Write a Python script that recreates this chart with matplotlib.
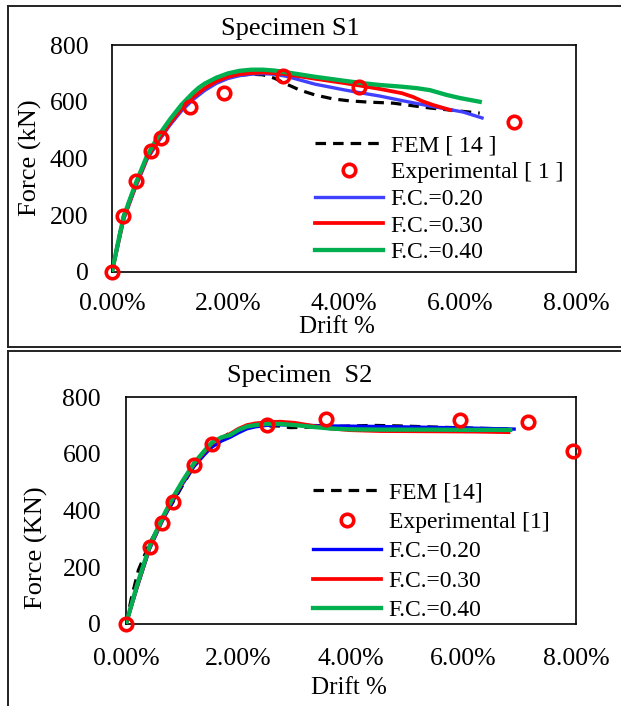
import matplotlib
matplotlib.use("Agg")
import matplotlib.pyplot as plt
from matplotlib.lines import Line2D

plt.rcParams['font.family'] = ['Liberation Serif', 'DejaVu Serif']

# ---- Specimen S1 ----
s1_fem_x = [0, 0.1, 0.2, 0.4, 0.6, 0.8, 1.0, 1.2, 1.4, 1.6, 1.8, 2.0, 2.2, 2.4, 2.6, 2.8, 3.0, 3.24, 3.5, 3.81, 4.1, 4.4, 4.85, 5.48, 6.34]
s1_fem_y = [0, 105, 200, 305, 400, 464, 520, 572, 612, 645, 670, 686, 694, 697, 695, 683, 663, 641, 624, 610, 603, 599, 595, 578, 560]
s1_exp_x = [0, 0.198, 0.42, 0.665, 0.837, 1.35, 1.935, 2.94, 4.25, 6.93]
s1_exp_y = [0, 198, 320, 425, 471, 581, 632, 691, 653, 529]
s1_fc20_x = [0, 0.1, 0.2, 0.4, 0.6, 0.8, 1.0, 1.2, 1.4, 1.6, 1.8, 2.0, 2.2, 2.4, 2.6, 2.8, 3.0, 3.5, 4.0, 4.3, 4.62, 5.0, 5.48, 6.05, 6.38]
s1_fc20_y = [0, 92, 185, 295, 395, 460, 518, 568, 608, 640, 665, 682, 692, 697, 699, 697, 690, 662, 642, 631, 620, 604, 585, 564, 543]
s1_fc30_x = [0, 0.1, 0.2, 0.4, 0.6, 0.8, 1.0, 1.2, 1.4, 1.6, 1.8, 2.0, 2.2, 2.4, 2.6, 2.8, 3.0, 3.5, 4.0, 4.3, 4.62, 5.0, 5.19, 5.35, 5.53, 5.83]
s1_fc30_y = [0, 95, 188, 300, 400, 466, 524, 576, 616, 648, 672, 688, 697, 701, 703, 701, 697, 681, 666, 656, 645, 630, 617, 602, 589, 571]
s1_fc40_x = [0, 0.1, 0.2, 0.4, 0.6, 0.8, 1.0, 1.2, 1.4, 1.5, 1.6, 1.8, 2.0, 2.2, 2.4, 2.6, 2.8, 3.0, 3.5, 4.0, 4.3, 4.62, 5.0, 5.25, 5.48, 5.77, 6.0, 6.34]
s1_fc40_y = [0, 100, 195, 308, 408, 480, 538, 590, 632, 650, 664, 685, 700, 709, 713, 713, 710, 704, 688, 674, 666, 659, 653, 648, 641, 624, 613, 600]

# ---- Specimen S2 ----
s2_fem_x = [0, 0.1, 0.22, 0.42, 0.65, 0.83, 1.21, 1.53, 1.9, 2.3, 2.7, 2.92, 3.5, 4.39, 4.87, 5.5, 6.2, 6.9]
s2_fem_y = [0, 95, 190, 285, 368, 428, 558, 634, 680, 697, 698, 692, 695, 700, 698, 694, 690, 687]
s2_exp_x = [0, 0.42, 0.647, 0.83, 1.21, 1.527, 2.50, 3.56, 5.94, 7.15, 7.95]
s2_exp_y = [0, 271, 356, 430, 562, 636, 700, 724, 720, 711, 611]
s2_fc20_x = [0, 0.2, 0.42, 0.65, 0.83, 1.0, 1.21, 1.4, 1.53, 1.7, 1.85, 2.0, 2.15, 2.3, 2.5, 2.74, 3.0, 3.63, 4.52, 5.4, 6.2, 6.90]
s2_fc20_y = [0, 130, 265, 365, 432, 492, 555, 598, 624, 645, 658, 674, 688, 695, 700, 702, 701, 698, 696, 693, 690, 687]
s2_fc30_x = [0, 0.2, 0.42, 0.65, 0.83, 1.0, 1.21, 1.4, 1.53, 1.7, 1.85, 2.0, 2.15, 2.3, 2.5, 2.74, 3.0, 3.3, 3.63, 4.0, 4.52, 5.4, 6.2, 6.80]
s2_fc30_y = [0, 135, 270, 370, 440, 498, 563, 608, 636, 657, 670, 688, 701, 707, 711, 713, 709, 699, 689, 683, 680, 679, 678, 676]
s2_fc40_x = [0, 0.2, 0.42, 0.65, 0.83, 1.0, 1.21, 1.4, 1.53, 1.7, 1.85, 2.0, 2.15, 2.3, 2.5, 2.74, 3.0, 3.3, 3.63, 4.0, 4.52, 5.4, 6.2, 6.83]
s2_fc40_y = [0, 140, 275, 375, 445, 502, 567, 612, 640, 658, 666, 684, 696, 701, 705, 705, 701, 695, 689, 686, 685, 685, 684, 684]

x_ticks = [0, 2, 4, 6, 8]
y_ticks = [0, 200, 400, 600, 800]

W, H = 621, 706


def fx(x):
    return x / W


def fy(y):
    return 1 - y / H


fig = plt.figure(figsize=(W / 100, H / 100), dpi=100)


def panel(rect, data, blue, labels, title, ylabel, title_xy, ylabel_xy, xlabel_xy, leg_xy, ypad, xpad, rowgap):
    fem_x, fem_y, exp_x, exp_y, c20x, c20y, c30x, c30y, c40x, c40y = data
    ax = fig.add_axes(rect)
    dash = (0, (3.3, 2.2))
    ax.plot(fem_x, fem_y, color='black', lw=2.3, linestyle=dash, label=labels[0], zorder=2)
    ax.plot(exp_x, exp_y, linestyle='none', marker='o', ms=9, mfc='none', mec='#ff0000',
            mew=2.6, label=labels[1], zorder=6, clip_on=False)
    ax.plot(c20x, c20y, color=blue, lw=2.4, label=labels[2], zorder=3)
    ax.plot(c30x, c30y, color='#ff0000', lw=2.7, label=labels[3], zorder=4)
    ax.plot(c40x, c40y, color='#00b050', lw=3.1, label=labels[4], zorder=5)
    ax.set_xlim(0, 8)
    ax.set_ylim(0, 800)
    ax.set_xticks(x_ticks)
    ax.set_xticklabels([f"{t:.2f}%" for t in x_ticks])
    ax.set_yticks(y_ticks)
    ax.tick_params(axis='y', length=0, pad=ypad, labelsize=18.5)
    ax.tick_params(axis='x', length=0, pad=xpad, labelsize=18.5)
    for s in ax.spines.values():
        s.set_linewidth(1.2)
    fig.text(fx(title_xy[0]), fy(title_xy[1]), title, ha='center', va='center', fontsize=19)
    fig.text(fx(ylabel_xy[0]), fy(ylabel_xy[1]), ylabel, ha='center', va='center',
             rotation=90, fontsize=19)
    fig.text(fx(xlabel_xy[0]), fy(xlabel_xy[1]), 'Drift %', ha='center', va='center', fontsize=18)
    ax.legend(loc='upper left', bbox_to_anchor=(fx(leg_xy[0]), fy(leg_xy[1])),
              bbox_transform=fig.transFigure, frameon=False, fontsize=17,
              handlelength=2.9, handletextpad=0.3, labelspacing=rowgap,
              borderpad=0, borderaxespad=0, numpoints=1)
    return ax


panel([fx(112), fy(272), fx(576) - fx(112), fy(45) - fy(272)],
      (s1_fem_x, s1_fem_y, s1_exp_x, s1_exp_y, s1_fc20_x, s1_fc20_y,
       s1_fc30_x, s1_fc30_y, s1_fc40_x, s1_fc40_y),
      '#4040ff',
      ['FEM [ 14 ]', 'Experimental [ 1 ]', 'F.C.=0.20', 'F.C.=0.30', 'F.C.=0.40'],
      'Specimen S1', 'Force (kN)', (290, 29), (30, 158), (337, 327), (315, 135),
      17, 15, 0.22)

panel([fx(126), fy(624), fx(576) - fx(126), fy(397) - fy(624)],
      (s2_fem_x, s2_fem_y, s2_exp_x, s2_exp_y, s2_fc20_x, s2_fc20_y,
       s2_fc30_x, s2_fc30_y, s2_fc40_x, s2_fc40_y),
      '#0000ff',
      ['FEM [14]', 'Experimental [1]', 'F.C.=0.20', 'F.C.=0.30', 'F.C.=0.40'],
      'Specimen  S2', 'Force (KN)', (300, 376), (36, 548), (349, 688), (313, 482),
      18, 17.5, 0.335)

# table-like borders around the two panels
frame = dict(color='#222222', lw=1.4, transform=fig.transFigure)
fig.add_artist(Line2D([fx(8), fx(621)], [fy(6), fy(6)], **frame))
fig.add_artist(Line2D([fx(8), fx(8)], [fy(6), fy(347)], **frame))
fig.add_artist(Line2D([fx(8), fx(621)], [fy(347), fy(347)], **frame))
fig.add_artist(Line2D([fx(8), fx(621)], [fy(351), fy(351)], **frame))
fig.add_artist(Line2D([fx(8), fx(8)], [fy(351), fy(706)], **frame))

fig.savefig('out.png', dpi=100)
